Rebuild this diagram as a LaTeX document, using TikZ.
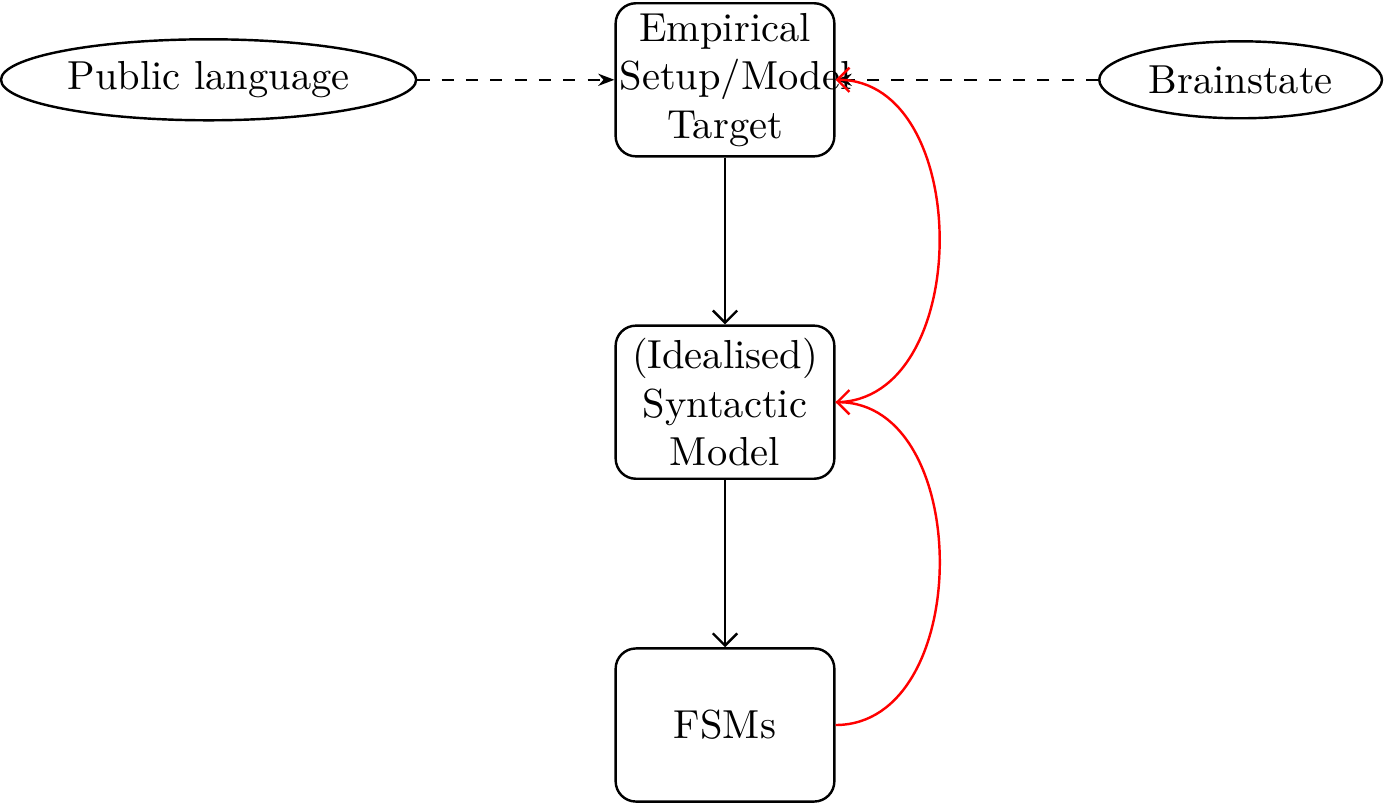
\documentclass[tikz,border=0pt]{standalone}
\usetikzlibrary{positioning,shapes.geometric,arrows.meta}
\begin{document}
\begin{tikzpicture}[x=1pt,y=1pt,
  box/.style={draw,semithick,rounded corners=5pt,text width=52pt,minimum height=37.8pt,align=center,inner sep=1pt},
  oval/.style={draw,semithick,ellipse,inner sep=1pt},
  >={Straight Barb[length=3pt]}]
\useasboundingbox (0,0) rectangle (342.2,-198.3);
\node[box] (emp) at (179,-19.7) {Empirical\\Setup/Model\\Target};
\node[box] (syn) at (179,-99.3) {(Idealised)\\Syntactic\\Model};
\node[box] (fsm) at (179,-179) {FSMs};
\node[oval,minimum width=102.5pt,minimum height=20pt] (pub) at (51.5,-19.7) {Public language};
\node[oval,minimum width=69.8pt,minimum height=19pt] (brain) at (306.3,-19.7) {Brainstate};
\draw[semithick,->] (emp) -- (syn);
\draw[semithick,->] (syn) -- (fsm);
\draw[semithick,dashed,-{Stealth[length=4pt]}] (pub) -- (emp);
\draw[semithick,dashed,-{Stealth[length=4pt]}] (brain) -- (emp.east);
\draw[red,semithick,->] (syn.east) to[out=0,in=0,looseness=1.1] (emp.east);
\draw[red,semithick,->] (fsm.east) to[out=0,in=0,looseness=1.1] (syn.east);
\end{tikzpicture}
\end{document}
